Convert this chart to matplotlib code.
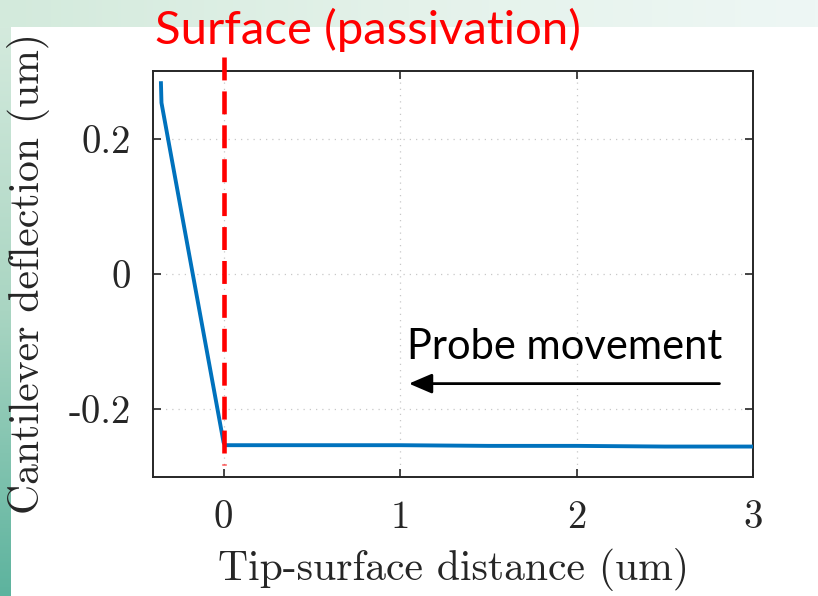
import numpy as np
import matplotlib
matplotlib.use("Agg")
import matplotlib.pyplot as plt
from matplotlib.colors import LinearSegmentedColormap

# approach curve (um)
distance = [-0.355, -0.352, -0.24, 0.0, 0.01, 0.5, 1.0, 1.5, 2.0, 2.5, 3.0]
deflection = [0.282, 0.253, 0.093, -0.249, -0.253, -0.253, -0.253, -0.254, -0.254, -0.255, -0.255]

xticks = [0, 1, 2, 3]
xticklabels = ["0", "1", "2", "3"]
yticks = [-0.2, 0, 0.2]
yticklabels = ["-0.2", "0", "0.2"]

surface_x = 0.0

plt.rcParams['font.family'] = 'serif'
plt.rcParams['font.serif'] = ['cmr10', 'DejaVu Serif']
plt.rcParams['axes.formatter.use_mathtext'] = True

fig = plt.figure(figsize=(8.18, 5.96), dpi=100)
fig.patch.set_facecolor("white")

# slide background bands
top_cmap = LinearSegmentedColormap.from_list("top", ["#d3eadc", "#e4f2ea", "#eef7f5"])
bt = fig.add_axes([0, 1 - 27 / 596, 1, 27 / 596])
bt.imshow(np.linspace(0, 1, 256)[None, :], aspect="auto", cmap=top_cmap)
bt.axis("off")

left_cmap = LinearSegmentedColormap.from_list("left", ["#d4eadd", "#a9d5c2", "#5db39e"])
bl = fig.add_axes([0, 0, 11 / 818, 1 - 27 / 596])
bl.imshow(np.linspace(0, 1, 256)[:, None], aspect="auto", cmap=left_cmap)
bl.axis("off")

ax = fig.add_axes([153 / 818, 1 - 477 / 596, 600 / 818, 406 / 596])
ax.plot(distance, deflection, color="#0072BD", linewidth=2.8, zorder=3)

# surface marker, runs above the axes
ax.plot([surface_x, surface_x], [0.321, -0.282], color="red", linestyle=(0, (5, 2.4)),
        linewidth=3.3, clip_on=False, zorder=4)

ax.set_xlim(-0.4, 3)
ax.set_ylim(-0.3, 0.3)
ax.set_xticks(xticks)
ax.set_xticklabels(xticklabels)
ax.set_yticks(yticks)
ax.set_yticklabels(yticklabels)
ax.tick_params(direction="in", length=6, width=1.2, colors="#262626", labelsize=28,
               top=True, right=True, pad=16)
ax.tick_params(axis="x", pad=17)
for lab in ax.get_xticklabels() + ax.get_yticklabels():
    lab.set_color("#262626")
ax.grid(True, linestyle=(0, (1, 4)), color="#c8c8c8", linewidth=0.9)
for sp in ax.spines.values():
    sp.set_color("#262626")
    sp.set_linewidth(1.4)

ax.set_xlabel("Tip-surface distance (um)", fontsize=30, color="#262626", labelpad=8)
ax.set_ylabel("Cantilever deflection (um)", fontsize=30, color="#262626")
ax.yaxis.set_label_coords(-0.172, 0.5)

fig.text(155 / 818, 1 - 44 / 596, "Surface (passivation)", color="red", fontsize=34,
         family="Lato", ha="left", va="baseline")
ax.text(1.04, 0.3 - (359 - 71) / 677.5, "Probe movement", color="black", fontsize=30,
        family="Lato", ha="left", va="baseline", transform=ax.transData)
arrow_y = 0.3 - (384 - 71) / 677.5
ax.annotate("", xy=(1.05, arrow_y), xytext=(2.81, arrow_y),
            arrowprops=dict(arrowstyle="-|>,head_length=0.7,head_width=0.3", color="black",
                            lw=2, mutation_scale=20, shrinkA=0, shrinkB=0))

fig.savefig("out.png", dpi=100)
